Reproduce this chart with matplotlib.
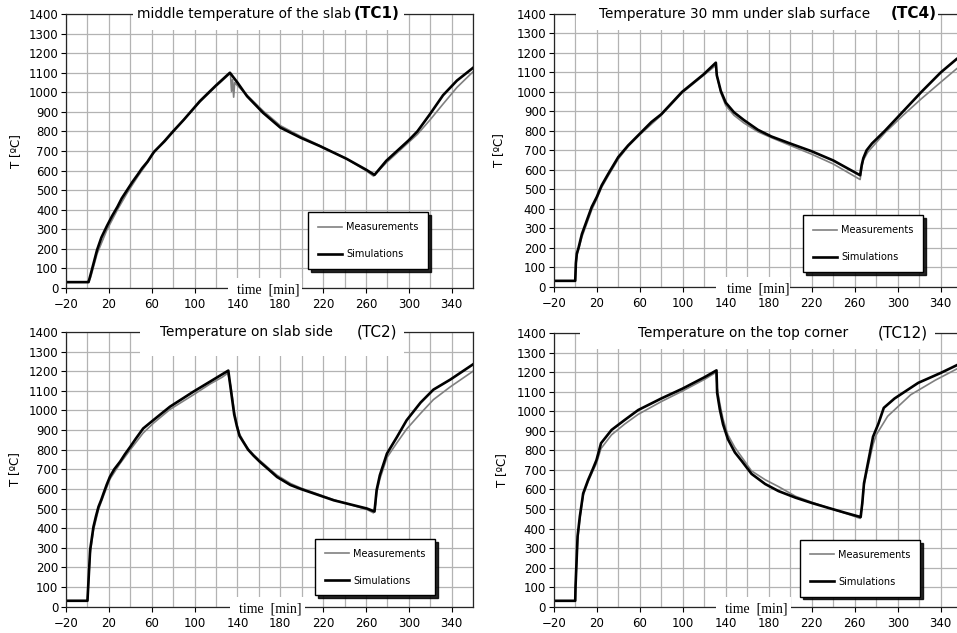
import numpy as np
import matplotlib
matplotlib.use("Agg")
import matplotlib.pyplot as plt
from matplotlib.patches import Rectangle

# ── Values (time in min, temperature in ºC) ──
# TC1 - middle of the slab
tc1_sim_t = [-20, 0, 1, 3, 6, 9, 13, 18, 23, 28, 32, 37, 42, 47, 51, 56, 62, 72, 80, 90, 105, 120, 133, 140,
             149, 164, 180, 199, 217, 242, 260, 268, 279, 290, 300, 308, 320, 332, 345, 360]
tc1_sim_T = [30, 30, 30, 70, 132, 195, 258, 315, 368, 415, 458, 500, 542, 580, 612, 645, 695, 750, 800, 860,
             955, 1035, 1100, 1050, 980, 895, 820, 768, 725, 660, 605, 578, 650, 705, 755, 800, 890, 985,
             1060, 1125]
tc1_meas_t = [-20, 0, 1, 3, 9, 18, 28, 37, 47, 56, 62, 72, 80, 90, 105, 120, 132, 133.5, 134.5, 135.5,
              136.5, 137.5, 139, 149, 164, 180, 199, 217, 242, 260, 267, 279, 290, 300, 308, 320, 332, 345, 360]
tc1_meas_T = [30, 30, 30, 55, 175, 295, 400, 485, 570, 640, 690, 755, 805, 860, 950, 1030, 1090, 1095, 1005, 1065,
              975, 1050, 1040, 985, 905, 830, 775, 728, 660, 600, 572, 640, 695, 745, 785, 860, 940, 1025, 1105]

# TC4 - 30 mm under slab surface
tc4_sim_t = [-20, 0, 0.6, 1.5, 3.1, 6.2, 10.8, 15.4, 20, 24.6, 30.8, 40, 49.2, 60, 70.8, 80, 99.4, 119.4, 130.8,
             131.7, 135.4, 140, 147.7, 157, 170, 182.5, 200, 220, 240, 265, 266.5, 268, 271, 276, 288, 305, 322,
             340, 355, 360]
tc4_sim_T = [30, 30, 120, 170, 200, 270, 340, 410, 460, 520, 580, 665, 725, 785, 845, 885, 1000, 1090, 1150,
             1085, 1005, 945, 895, 855, 805, 771, 735, 695, 648, 572, 625, 660, 700, 735, 800, 900, 1000,
             1100, 1170, 1185]
tc4_meas_t = [-20, 0, 0.6, 1.5, 3.1, 6.2, 10.8, 15.4, 20, 24.6, 30.8, 40, 49.2, 60, 80, 99.4, 119.4, 130.5,
              131.5, 135.4, 140, 147.7, 157, 170, 182.5, 200, 220, 240, 265, 266.5, 268, 272, 288, 305, 322,
              340, 355, 360]
tc4_meas_T = [30, 30, 110, 160, 190, 255, 325, 395, 450, 510, 570, 655, 720, 780, 880, 995, 1085, 1135,
              1090, 995, 930, 880, 840, 795, 765, 725, 680, 630, 550, 610, 650, 690, 790, 880, 965,
              1050, 1120, 1135]

# TC2 - slab side
tc2_sim_t = [-20, 0, 2.5, 5.6, 8, 10.3, 13, 15, 18, 21, 25, 30.5, 35, 40, 45, 52, 61.6, 77, 99, 114.5, 131.5,
             134, 137, 139.5, 142, 146, 150, 155, 161, 170, 177, 189.5, 199, 230, 261, 268, 269, 270, 273,
             279.6, 288.9, 298, 311, 323, 338.7, 360]
tc2_sim_T = [30, 30, 289, 407, 462, 509, 546, 577, 622, 662, 700, 739, 777, 815, 855, 908, 951, 1019, 1096,
             1147, 1203, 1100, 980, 920, 870, 835, 800, 770, 738, 695, 661, 620, 600, 542, 500, 485, 540, 595,
             670, 780, 864, 950, 1040, 1106, 1157, 1235]
tc2_meas_t = [-20, 0, 2.5, 5.6, 10.3, 15, 21, 30.5, 40, 52, 61.6, 77, 99, 114.5, 126, 131, 134, 137, 139.5,
              142, 146, 150, 155, 161, 170, 177, 189.5, 199, 230, 261, 267, 269, 270, 273, 279.6, 288.9, 298,
              311, 323, 338.7, 360]
tc2_meas_T = [30, 30, 270, 390, 495, 565, 650, 730, 800, 885, 935, 1005, 1080, 1135, 1170, 1190, 1120, 1000, 930,
              880, 840, 805, 775, 745, 702, 670, 628, 605, 545, 495, 478, 520, 580, 650, 760, 835, 905,
              985, 1055, 1120, 1200]

# TC12 - top corner
tc12_sim_t = [-20, 0, 0.3, 2.2, 4.3, 7.4, 12, 16, 19.8, 24, 33.8, 46, 58.6, 80, 100, 120.6, 131.4, 132, 134.5,
              137.5, 142, 148.5, 155, 164, 176.7, 189, 205, 220, 236, 251.6, 265.5, 267, 268.6, 271.6, 277,
              282, 287, 297, 319, 340, 360]
tc12_sim_T = [30, 30, 105, 360, 462, 580, 649, 700, 751, 837, 905, 956, 1007, 1066, 1117, 1176, 1210, 1095, 1010,
              934, 858, 790, 745, 680, 628, 592, 558, 531, 505, 480, 459, 530, 632, 717, 870,
              937, 1018, 1066, 1146, 1197, 1250]
tc12_meas_t = [-20, 0, 0.3, 2.2, 4.3, 7.4, 12, 16, 19.8, 24, 33.8, 46, 58.6, 80, 100, 120.6, 131, 132, 134.5,
               137.5, 142, 148.5, 155, 164, 176.7, 189, 205, 220, 236, 251.6, 265, 267, 268.6, 271.6, 277,
               280, 290.6, 312, 335, 360]
tc12_meas_T = [30, 30, 100, 340, 450, 570, 640, 690, 735, 810, 880, 935, 985, 1050, 1105, 1165, 1200, 1120, 1040,
               960, 880, 815, 765, 695, 650, 615, 565, 535, 505, 478, 452, 520, 620, 700, 830,
               880, 975, 1085, 1160, 1232]

titles = ["middle temperature of the slab", "Temperature 30 mm under slab surface",
          "Temperature on slab side", "Temperature on the top corner"]
tags = ["(TC1)", "(TC4)", "(TC2)", "(TC12)"]
x_ticks = np.arange(-20, 341, 40)
x_grid = np.arange(-20, 361, 20)
y_ticks = np.arange(0, 1401, 100)

# ── Layout (figure fractions / data positions of the decorations) ──
layouts = [
    dict(rect=[0.0690, 0.5450, 0.4253, 0.4329], tbox=(42.5, 296, 1318), tx=146, tagx=270, tagw="bold",
         lbox=(131, 200), lx=169, leg=(0.743, 0.173), ylab=-0.108),
    dict(rect=[0.5786, 0.5471, 0.4269, 0.4308], tbox=(0.5, 337, 1320), tx=148, tagx=315, tagw="bold",
         lbox=(131, 200), lx=170, leg=(0.757, 0.158), ylab=-0.118),
    dict(rect=[0.0690, 0.0416, 0.4253, 0.4340], tbox=(49, 296, 1275), tx=148, tagx=270, tagw="normal",
         lbox=(133, 203), lx=171, leg=(0.760, 0.144), ylab=-0.111),
    dict(rect=[0.5786, 0.0416, 0.4269, 0.4319], tbox=(4.5, 335, 1318), tx=156, tagx=305, tagw="normal",
         lbox=(131, 201), lx=168, leg=(0.750, 0.140), ylab=-0.113),
]

series = [
    (tc1_sim_t, tc1_sim_T, tc1_meas_t, tc1_meas_T),
    (tc4_sim_t, tc4_sim_T, tc4_meas_t, tc4_meas_T),
    (tc2_sim_t, tc2_sim_T, tc2_meas_t, tc2_meas_T),
    (tc12_sim_t, tc12_sim_T, tc12_meas_t, tc12_meas_T),
]

fig = plt.figure(figsize=(9.57, 6.33), dpi=100)

for (sim_t, sim_T, meas_t, meas_T), title, tag, lay in zip(series, titles, tags, layouts):
    ax = fig.add_axes(lay["rect"])
    ax.plot(meas_t, meas_T, color="0.5", lw=1.2, label="Measurements", zorder=2)
    ax.plot(sim_t, sim_T, color="black", lw=1.9, label="Simulations", zorder=2.1)

    ax.set_xlim(-20, 360)
    ax.set_ylim(0, 1400)
    ax.set_xticks(x_ticks)
    ax.set_xticks(x_grid, minor=True)
    ax.set_yticks(y_ticks)
    ax.set_axisbelow(True)
    ax.grid(True, which="both", color="0.7", lw=0.9)
    ax.tick_params(which="major", direction="out", length=3.5, width=0.8, labelsize=8.5, color="black")
    ax.tick_params(axis="y", pad=2)
    ax.tick_params(axis="x", pad=4)
    ax.tick_params(which="minor", length=0)
    for sp in ax.spines.values():
        sp.set_color("0.15")
        sp.set_linewidth(0.9)

    ax.set_ylabel("T [ºC]", fontsize=8.5)
    ax.yaxis.set_label_coords(lay["ylab"], 0.5)

    # white box interrupting the top frame, carrying the title
    x0, x1, y0 = lay["tbox"]
    ax.add_patch(Rectangle((x0, y0), x1 - x0, 1460 - y0, facecolor="white", edgecolor="none",
                           zorder=3, clip_on=False))
    ax.text(lay["tx"], 1400, title, ha="center", va="center", fontsize=9.8, zorder=4)
    ax.text(lay["tagx"], 1400, tag, ha="center", va="center", fontsize=11, fontweight=lay["tagw"], zorder=4)

    # time label sitting on the bottom frame
    b0, b1 = lay["lbox"]
    ax.add_patch(Rectangle((b0, -45), b1 - b0, 95, facecolor="white", edgecolor="none",
                           zorder=3, clip_on=False))
    ax.text(lay["lx"], -12, "time  [min]", ha="center", va="center", fontsize=10,
            family="Liberation Serif", zorder=4)

    leg = ax.legend(loc="center", bbox_to_anchor=lay["leg"], fontsize=7, frameon=True, fancybox=False,
                    shadow={"color": "black", "alpha": 0.85}, framealpha=1, edgecolor="black",
                    borderpad=1.0, labelspacing=1.75, handlelength=2.5, handletextpad=0.4)
    leg.get_frame().set_linewidth(1.0)
    leg.set_zorder(6)

fig.savefig("out.png", dpi=100)
